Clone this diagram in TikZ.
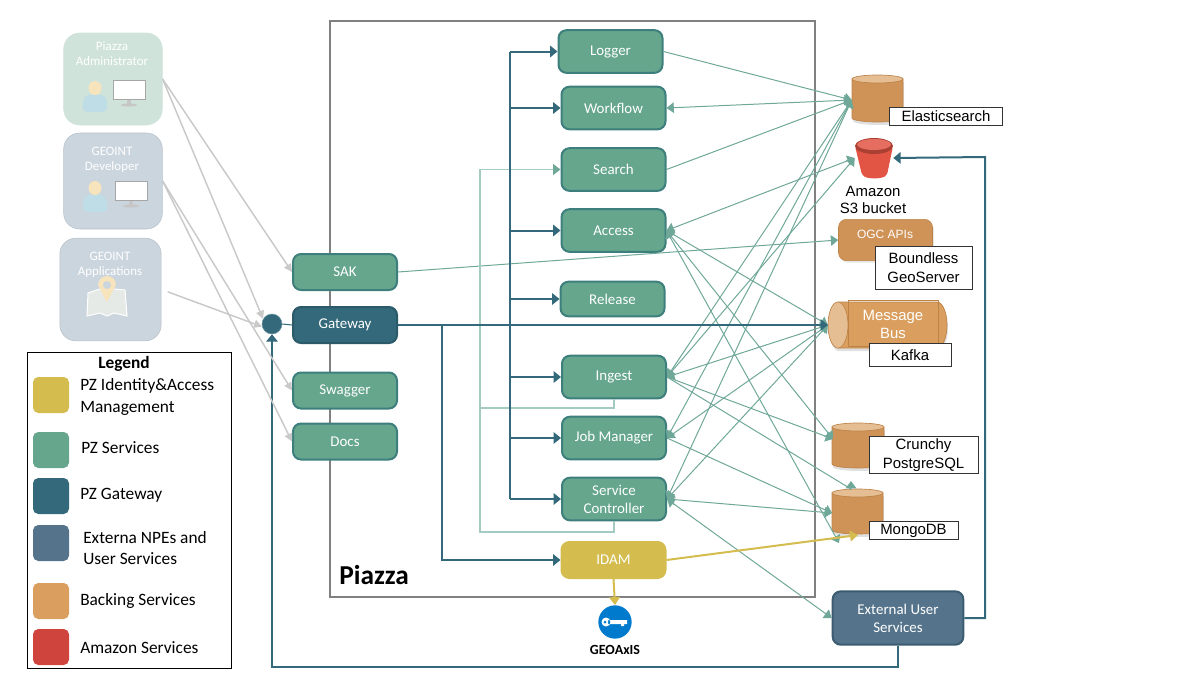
\documentclass[tikz,border=0pt]{standalone}
\usepackage{fontspec}
\setmainfont{Carlito}
\newfontfamily\labelfont{Liberation Sans}
\usetikzlibrary{arrows.meta,shadows,calc}

\definecolor{pzgreen}{HTML}{65A68D}
\definecolor{pzgreenline}{HTML}{3D7F7C}
\definecolor{linkgreen}{HTML}{6FA898}
\definecolor{paleline}{HTML}{A3CBC1}
\definecolor{pzgate}{HTML}{33697A}
\definecolor{pzgateline}{HTML}{2B5A68}
\definecolor{pzgold}{HTML}{D4BC4E}
\definecolor{pzext}{HTML}{55748B}
\definecolor{pzextline}{HTML}{3B5C70}
\definecolor{backing}{HTML}{CF9358}
\definecolor{backingtop}{HTML}{E6BE93}
\definecolor{backingline}{HTML}{BC8348}
\definecolor{legendorange}{HTML}{DA9F5E}
\definecolor{amazon}{HTML}{D0443E}
\definecolor{bucketred}{HTML}{E25444}
\definecolor{usergreen}{HTML}{CFE3DA}
\definecolor{userblue}{HTML}{CBD5DE}
\definecolor{frameline}{HTML}{808080}
\definecolor{greyarrow}{HTML}{C9C9C9}
\definecolor{userskin}{HTML}{F7E3BC}
\definecolor{userbody}{HTML}{BFDDE6}

\begin{document}
\begin{tikzpicture}[
		x=0.75pt, y=-0.75pt,
		service/.style = {draw=pzgreenline, fill=pzgreen, line width=1.5pt, rounded corners=6pt, minimum width=78pt, text=white, font=\fontsize{11.2}{13.5}\selectfont, align=center, inner sep=0pt},
		gatebox/.style = {service, draw=pzgateline, fill=pzgate},
		idambox/.style = {service, draw=pzgold, fill=pzgold},
		extbox/.style = {service, draw=pzextline, fill=pzext, minimum width=98pt, minimum height=40pt},
		userbox/.style = {fill=userblue, draw=userblue!90!black, rounded corners=12pt, minimum width=74pt, inner sep=0pt},
		usertitle/.style = {text=white, font=\fontsize{9.7}{11.2}\selectfont, align=center, inner sep=0pt},
		port/.style = {inner sep=0pt},
		tagbox/.style = {draw=black!80, fill=white, line width=0.5pt, font=\labelfont\fontsize{11.2}{14.2}\selectfont, align=center, inner sep=0pt},
		swatch/.style = {rounded corners=4pt, minimum width=27pt, minimum height=27pt, inner sep=0pt},
		legendtext/.style = {anchor=west, font=\fontsize{13}{15.8}\selectfont, align=left, inner sep=0pt},
		link/.style = {draw=linkgreen, line width=0.75pt},
		dark/.style = {draw=pzgate, line width=1.5pt, -{Triangle[length=5.5pt,width=8.5pt]}},
		pale/.style = {draw=paleline, line width=1.1pt},
		grey/.style = {draw=greyarrow, line width=1.1pt, -{Triangle[length=6pt,width=6pt]}},
		gold/.style = {draw=pzgold, line width=1.5pt, -{Triangle[length=6pt,width=8pt]}},
		>={Triangle[length=5.5pt,width=8pt]}]

		\useasboundingbox (0,0) rectangle (1200,675);

		% Frame of the Piazza system
		\node[draw=frameline, line width=1.5pt, minimum width=363.5pt, minimum height=431.5pt, inner sep=0pt] (frame) at (572.5,309) {};
		\node[anchor=west, font=\bfseries\fontsize{20.5}{24}\selectfont, inner sep=0pt] (title) at (339,575) {Piazza};

		% Users on the left
		\node[userbox, fill=usergreen, draw=usergreen, minimum height=69pt] (Admin) at (113,79) {};
		\node[userbox, minimum height=72pt] (Developer) at (113,181) {};
		\node[userbox, minimum width=76pt, minimum height=77pt] (Apps) at (110.5,289.5) {};
		\node[usertitle] (AdminText) at (112,54) {Piazza\\Administrator};
		\node[usertitle] (DeveloperText) at (112,160) {GEOINT\\Developer};
		\node[usertitle] (AppsText) at (110,265) {GEOINT\\Applications};

		% Small pictures in the user boxes
		\foreach \bx/\by in {95/88, 95/188} {
			\fill[userbody, rounded corners=4pt] (\bx-13,\by+24) -- (\bx-11,\by+7) -- (\bx+11,\by+7) -- (\bx+13,\by+24) -- cycle;
			\fill[userskin] (\bx,\by) ellipse (6.5 and 7);
		}
		\foreach \mx/\my in {113/80, 115/181} {
			\fill[gray!45] (\mx+14,\my+19) rectangle (\mx+18,\my+24);
			\fill[gray!45] (\mx+16,\my+25) ellipse (8 and 1.5);
			\draw[gray!70, fill=white] (\mx,\my) rectangle (\mx+32,\my+19);
		}
		\fill[green!10!gray!18, draw=white, line width=0.75pt] (88,293) -- (100,289) -- (107,292) -- (114,289) -- (125,290) -- (127,316) -- (114,313) -- (107,316) -- (100,313) -- (87,316) -- cycle;
		\fill[userskin] (98,285) arc[start angle=180, end angle=360, radius=9] -- (107,302) -- cycle;
		\fill[userblue] (107,285) circle (4);

		% Gateway column
		\node[service, minimum height=27pt] (SAK) at (345,272) {SAK};
		\node[gatebox, minimum height=27pt] (Gateway) at (345,325) {Gateway};
		\node[service, minimum height=27pt] (Swagger) at (345,390.5) {Swagger};
		\node[service, minimum height=27pt] (Docs) at (345,441.5) {Docs};
		\node[circle, fill=pzgate, draw=pzgate!70!white, minimum size=15pt, inner sep=0pt] (gatedot) at (272,324) {};

		% Services inside the frame
		\node[service, minimum height=32pt] (Logger) at (610.5,51.5) {Logger};
		\node[service, minimum height=32pt] (Workflow) at (613.5,108) {Workflow};
		\node[service, minimum height=32pt] (Search) at (613.5,169.5) {Search};
		\node[service, minimum height=32pt] (Access) at (613.5,230.5) {Access};
		\node[service, minimum height=26pt] (Release) at (612.5,299) {Release};
		\node[service, minimum height=32pt] (Ingest) at (614,377) {Ingest};
		\node[service, minimum height=32pt] (JobManager) at (614,438) {Job Manager};
		\node[service, minimum height=32pt] (ServiceController) at (614,499) {Service\\Controller};
		\node[idambox, minimum height=27pt] (IDAM) at (613.5,560) {IDAM};

		% Key icon under IDAM
		\node[circle, fill=blue!40!cyan!80!black, minimum size=25pt, inner sep=0pt] (key) at (615,622) {};
		\fill[white] (606,622) circle (4.5) (608,620) rectangle (627,624) (621,624) rectangle (624,626);
		\fill[blue!40!cyan!80!black] (605,622) circle (1.5);
		\node[font=\bfseries\fontsize{10.5}{13}\selectfont, inner sep=0pt] (geoaxis) at (615,650) {GEOAxIS};

		% Backing services on the right, upright drums first
		\foreach \cx/\ctop/\cbot/\crad in {877.5/79/118/25.5, 858/427/464/26, 857.5/493/530/25.5} {
			\fill[black, opacity=0.12] (\cx-\crad+1,\ctop+3) -- (\cx+\crad+1,\ctop+3) -- (\cx+\crad+1,\cbot+3) arc[start angle=0, end angle=180, x radius=\crad, y radius=4] -- cycle;
			\fill[backing, draw=backingline, line width=0.5pt] (\cx-\crad,\ctop) -- (\cx+\crad,\ctop) -- (\cx+\crad,\cbot) arc[start angle=0, end angle=180, x radius=\crad, y radius=4] -- cycle;
			\fill[backingtop, draw=backingline, line width=0.5pt] (\cx,\ctop) ellipse [x radius=\crad, y radius=4];
		}
		\node[port, minimum width=38.25pt, minimum height=34.5pt] (es) at (877.5,100) {};
		\node[port, minimum width=39pt, minimum height=33pt] (pg) at (858,445) {};
		\node[port, minimum width=38.25pt, minimum height=33pt] (mongo) at (857.5,511.5) {};

		\node[port, minimum width=28.5pt, minimum height=30pt] (s3) at (874,158) {};
		\fill[bucketred, rounded corners=2pt] (855,146) -- (862,175) .. controls (868,179) and (881,179) .. (887,175) -- (893,146) -- cycle;
		\fill[bucketred!75!black] (874,146) ellipse (19 and 8);
		\fill[bucketred!85!white] (874,144.5) ellipse (17 and 5.5);
		\node[font=\labelfont\fontsize{11.2}{12.8}\selectfont, align=center, inner sep=0pt] (s3text) at (873,199.5) {Amazon\\S3 bucket};

		\node[fill=backing, draw=backingline, rounded corners=6pt, minimum width=70.5pt, minimum height=31pt, inner sep=0pt, drop shadow={opacity=0.2, shadow xshift=1pt, shadow yshift=-1.5pt}] (ogc) at (885.5,240) {};
		\node[text=white, font=\labelfont\fontsize{9}{11}\selectfont, inner sep=0pt] (ogctext) at (885,234) {OGC APIs};

		% Message bus lies on its side
		\fill[black, opacity=0.12] (839,305) -- (938,305) arc[start angle=-90, end angle=90, x radius=10, y radius=23] -- (839,351) arc[start angle=90, end angle=270, x radius=10, y radius=23] -- cycle;
		\fill[legendorange, draw=backingline, line width=0.5pt] (838,302) -- (937,302) arc[start angle=-90, end angle=90, x radius=10, y radius=23] -- (838,348) -- cycle;
		\draw[backingline] (848,300.5) rectangle (938,346);
		\fill[backingtop, draw=backingline, line width=0.5pt] (838,325) ellipse (10 and 23);
		\node[port, minimum width=89pt, minimum height=34.5pt] (bus) at (887.5,325) {};
		\node[text=white, font=\labelfont\fontsize{11.2}{13.5}\selectfont, align=center, inner sep=0pt] (bustext) at (893,324) {Message\\Bus};

		% White name tags
		\node[tagbox, minimum width=85pt, minimum height=13.5pt] (estag) at (946,116) {Elasticsearch};
		\node[tagbox, minimum width=72.5pt, minimum height=32pt] (ogctag) at (923.5,267.5) {Boundless\\GeoServer};
		\node[tagbox, minimum width=61.5pt, minimum height=17pt] (kafkatag) at (910,355) {Kafka};
		\node[tagbox, minimum width=81.5pt, minimum height=28pt] (pgtag) at (923.5,455) {Crunchy\\PostgreSQL};
		\node[tagbox, minimum width=66.5pt, minimum height=13.5pt] (mongotag) at (913.5,530.5) {MongoDB};

		\node[extbox] (External) at (898,618) {External User\\Services};

		% Free ends on the drums
		\coordinate (pgport) at (833,439);
		\coordinate (mongoport) at (832,513);
		\coordinate (mongotop) at (851,481);
		\coordinate (mongorim) at (851,489);
		\coordinate (mongofoot) at (839,543);
		\coordinate (mongogold) at (858,535);

		% Links between services and backing stores
		\draw[link,->] (Logger.east) -- (es.west);
		\draw[link,<->] (es.west) -- (Workflow.east);
		\draw[link,->] (Search.east) -- (es.west);
		\draw[link,<->] (Access.east) -- (s3.west);
		\draw[link,->] (SAK.east) -- (ogc.west);
		\foreach \svc in {Ingest,JobManager,ServiceController} {
			\draw[link,<->] (\svc.east) -- (es.west);
			\draw[link,<->] (\svc.east) -- (bus.west);
		}
		\draw[link,<->] (Ingest.east) -- (s3.west);
		\draw[link,<->] (Access.east) -- (bus.west);
		\draw[link,<->] (Access.east) -- (pgport);
		\draw[link,<->] (Access.east) -- (mongofoot);
		\draw[link,->] (Ingest.east) -- (pgport);
		\draw[link,->] (Ingest.east) -- (mongorim) -- (mongotop);
		\draw[link,->] (JobManager.east) -- (mongoport);
		\draw[link,<->] (ServiceController.east) -- (mongoport);
		\draw[link,<->] (ServiceController.east) -- (External.west);

		% Pale line into Search
		\draw[pale,-{Triangle[length=5.5pt,width=8pt,color=linkgreen]}] (ServiceController.south) |- (480,532) |- (Search.west);
		\draw[pale] (Ingest.south) |- (480,408);

		% Lines from the Gateway
		\coordinate (trunk) at (510,325);
		\draw[dark] (Gateway.east) -- (bus.west);
		\draw[dark,-] (trunk |- Logger.west) -- (trunk |- ServiceController.west);
		\foreach \svc in {Logger,Workflow,Access,Release,Ingest,JobManager,ServiceController}
		\draw[dark] (trunk |- \svc.west) -- (\svc.west);
		\draw[dark] (442,325) |- (IDAM.west);
		\draw[pzgate, line width=0.75pt] (gatedot.east) -- (Gateway.west);
		\draw[dark] (External.south) |- (272,667) -- (gatedot.south);
		\draw[dark] (External.east) -| (985,157) -- (s3.east);

		% Gold lines from IDAM
		\draw[gold] (IDAM.east) -- (mongogold);
		\draw[gold] (IDAM.south) -- (key.north);

		% Grey lines from the users
		\draw[grey] (Admin.east) -- (SAK.west);
		\draw[grey] (Admin.east) -- (gatedot.150);
		\draw[grey] (Developer.east) -- (Swagger.west);
		\draw[grey] (Developer.east) -- (Docs.west);
		\draw[grey, shorten <=5pt] (Apps.east) -- (gatedot.195);

		% Legend
		\node[draw=black, line width=0.75pt, minimum width=153pt, minimum height=237pt, inner sep=0pt] (legend) at (129,510) {};
		\node[font=\bfseries\fontsize{13}{15}\selectfont, inner sep=0pt] (legendtitle) at (124,364) {Legend};
		\foreach \col/\yy/\tx/\ty/\txt in {pzgold/395/80/397/{PZ Identity\&Access\\Management}, pzgreen/450/81/448/{PZ Services}, pzgate/496/80/495/{PZ Gateway}, pzext/543/83/548/{Externa NPEs and\\User Services}, legendorange/601/80/601/{Backing Services}, amazon/647/80/648/{Amazon Services}} {
			\node[swatch, fill=\col] (sw\yy) at (51,\yy) {};
			\node[legendtext] (lg\yy) at (\tx,\ty) {\txt};
		}
\end{tikzpicture}
\end{document}
